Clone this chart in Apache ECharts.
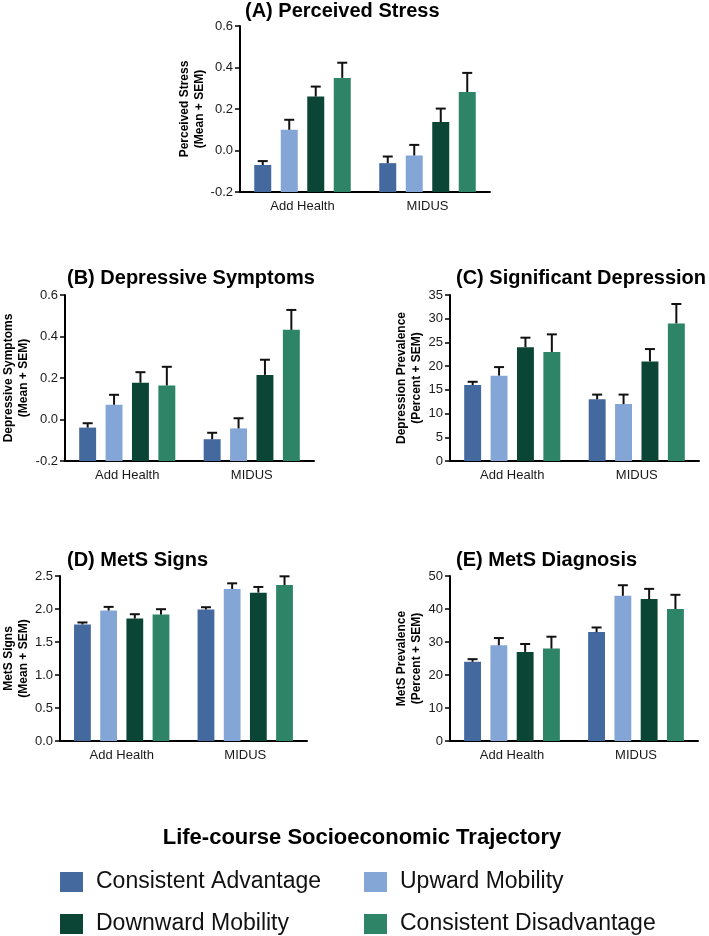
<!DOCTYPE html>
<html><head><meta charset="utf-8">
<script src="https://cdn.jsdelivr.net/npm/echarts@6/dist/echarts.min.js"></script>
<style>html,body{margin:0;padding:0;background:#fff}#chart{width:709px;height:936px}</style>
</head><body><div id="chart"></div>
<script>
// ---- data ----
const groups = ['Add Health', 'MIDUS'];
const trajectories = ['Consistent Advantage', 'Upward Mobility', 'Downward Mobility', 'Consistent Disadvantage'];
const colors = ['#44699f', '#84a6d6', '#0b4535', '#2d8467'];

// (A) Perceived Stress: per trajectory [Add Health, MIDUS]
const stressMean = [[-0.07, -0.061], [0.10, -0.024], [0.26, 0.137], [0.35, 0.282]];
const stressSem  = [[0.019, 0.032], [0.048, 0.051], [0.048, 0.065], [0.073, 0.092]];
// (B) Depressive Symptoms
const depSympMean = [[-0.039, -0.095], [0.071, -0.043], [0.177, 0.215], [0.164, 0.432]];
const depSympSem  = [[0.021, 0.031], [0.048, 0.049], [0.051, 0.073], [0.090, 0.096]];
// (C) Significant Depression (%)
const depPrevMean = [[16, 13], [18, 12], [24, 21], [23, 29]];
const depPrevSem  = [[0.7, 1.0], [1.8, 2.0], [2.0, 2.6], [3.7, 4.1]];
// (D) MetS Signs
const metsSignsMean = [[1.766, 1.992], [1.977, 2.304], [1.856, 2.248], [1.916, 2.364]];
const metsSignsSem  = [[0.030, 0.035], [0.055, 0.085], [0.065, 0.086], [0.081, 0.131]];
// (E) MetS Diagnosis (%)
const metsPrevMean = [[24, 33], [29, 44], [27, 43], [28, 40]];
const metsPrevSem  = [[0.8, 1.4], [2.2, 3.2], [2.4, 3.1], [3.6, 4.3]];

// ---- layout ----
const FONT = '"Liberation Sans", Arial, Helvetica, sans-serif';
const panels = [
  {title: '(A) Perceived Stress', yName: 'Perceived Stress\n(Mean + SEM)', mean: stressMean, sem: stressSem,
   min: -0.2, max: 0.6, interval: 0.2, dec: 1, grid: {left: 240, top: 26, width: 250, height: 166}, nameGap: 28, tx: 245, ty: 11},
  {title: '(B) Depressive Symptoms', yName: 'Depressive Symptoms\n(Mean + SEM)', mean: depSympMean, sem: depSympSem,
   min: -0.2, max: 0.6, interval: 0.2, dec: 1, grid: {left: 64, top: 295, width: 250, height: 166}, nameGap: 34, tx: 67, ty: 278},
  {title: '(C) Significant Depression', yName: 'Depression Prevalence\n(Percent + SEM)', mean: depPrevMean, sem: depPrevSem,
   min: 0, max: 35, interval: 5, dec: 0, grid: {left: 450, top: 295, width: 249, height: 166}, nameGap: 21, tx: 456, ty: 278},
  {title: '(D) MetS Signs', yName: 'MetS Signs\n(Mean + SEM)', mean: metsSignsMean, sem: metsSignsSem,
   min: 0, max: 2.5, interval: 0.5, dec: 1, grid: {left: 57, top: 576, width: 250, height: 165}, nameGap: 25, tx: 67, ty: 560},
  {title: '(E) MetS Diagnosis', yName: 'MetS Prevalence\n(Percent + SEM)', mean: metsPrevMean, sem: metsPrevSem,
   min: 0, max: 50, interval: 10, dec: 0, grid: {left: 450, top: 576, width: 248, height: 165}, nameGap: 26, tx: 456, ty: 560}
];

const grid = [], xAxis = [], yAxis = [], series = [], graphic = [];

panels.forEach((p, pi) => {
  grid.push(Object.assign({containLabel: false}, p.grid));
  xAxis.push({
    type: 'category', gridIndex: pi, data: groups,
    axisLine: {onZero: false, lineStyle: {color: '#000', width: 2}},
    axisTick: {alignWithLabel: true, length: 6, lineStyle: {color: '#000', width: 2}},
    axisLabel: {color: '#1a1a1a', fontSize: 13, fontFamily: FONT, margin: 8},
    splitLine: {show: false}
  });
  yAxis.push({
    type: 'value', gridIndex: pi, min: p.min, max: p.max, interval: p.interval,
    name: p.yName, nameLocation: 'middle', nameGap: p.nameGap,
    nameTextStyle: {fontSize: 12, fontWeight: 'bold', color: '#000', fontFamily: FONT, lineHeight: 15},
    axisLine: {show: true, lineStyle: {color: '#000', width: 2}},
    axisTick: {show: true, length: 5, lineStyle: {color: '#000', width: 1.5}},
    axisLabel: {color: '#1a1a1a', fontSize: 13, fontFamily: FONT, margin: 7,
      formatter: v => (Math.abs(v) < 1e-9 ? 0 : v).toFixed(p.dec)},
    splitLine: {show: false}
  });
  graphic.push({type: 'text', x: p.tx, y: p.ty,
    style: {text: p.title, fill: '#000', font: 'bold 20px ' + FONT, align: 'left', verticalAlign: 'middle'}});

  trajectories.forEach((t, ti) => {
    const data = groups.map((g, gi) => [gi, p.mean[ti][gi], p.sem[ti][gi]]);
    series.push({
      type: 'custom', name: t, xAxisIndex: pi, yAxisIndex: pi,
      itemStyle: {color: colors[ti]},
      encode: {x: 0, y: 1},
      data: data,
      renderItem: (params, api) => {
        const cat = api.value(0), v = api.value(1), s = api.value(2);
        const band = api.size([1, 0])[0];
        const top = api.coord([cat, v]);
        const base = api.coord([cat, p.min])[1];
        const errY = api.coord([cat, v + s])[1];
        const w = band * 0.136;
        const cx = top[0] + (ti - 1.5) * band * 0.212;
        return {
          type: 'group',
          children: [
            {type: 'rect', shape: {x: cx - w / 2, y: top[1], width: w, height: base - top[1]},
             style: {fill: api.visual('color')}},
            {type: 'line', shape: {x1: cx, y1: top[1], x2: cx, y2: errY},
             style: {stroke: '#111', lineWidth: 2}},
            {type: 'line', shape: {x1: cx - 5, y1: errY, x2: cx + 5, y2: errY},
             style: {stroke: '#111', lineWidth: 2}}
          ]
        };
      }
    });
  });
});

graphic.push({type: 'text', x: 362, y: 838,
  style: {text: 'Life-course Socioeconomic Trajectory', fill: '#000', font: 'bold 22px ' + FONT, align: 'center', verticalAlign: 'middle'}});

const legendCommon = {
  orient: 'horizontal', icon: 'rect', itemWidth: 23, itemHeight: 20, selectedMode: false,
  textStyle: {fontSize: 23, color: '#111', fontFamily: FONT, lineHeight: 24, padding: [0, 0, 0, 8]}
};
// legend slots: [left, top] for each trajectory
const legendPos = [[55, 865], [359, 865], [55, 907], [359, 907]];
const legend = trajectories.map((t, i) =>
  Object.assign({left: legendPos[i][0], top: legendPos[i][1], data: [t]}, legendCommon));

const chart = echarts.init(document.getElementById('chart'), null, {renderer: 'canvas'});
chart.setOption({
  backgroundColor: '#fff',
  animation: false,
  grid, xAxis, yAxis, series, legend, graphic
});
</script>
</body></html>
